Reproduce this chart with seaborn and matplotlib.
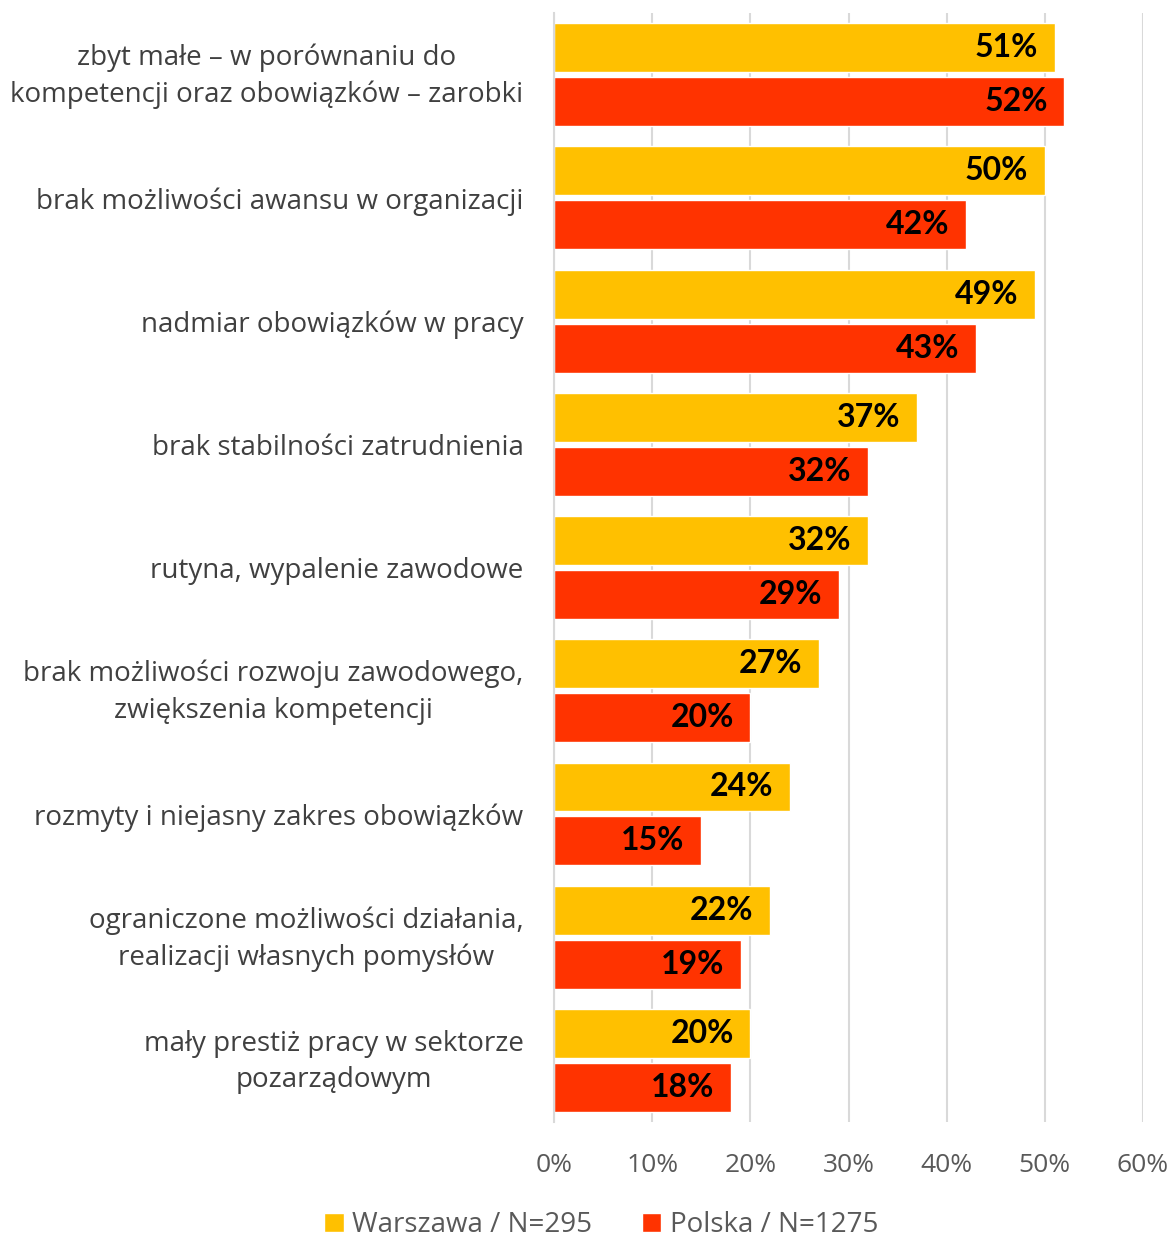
import matplotlib
matplotlib.use('Agg')
import matplotlib.pyplot as plt
import matplotlib.transforms as mtransforms
import seaborn as sns
import pandas as pd
from matplotlib.patches import Patch
from matplotlib.ticker import FuncFormatter

categories = [
    "zbyt małe – w porównaniu do\nkompetencji oraz obowiązków – zarobki",
    "brak możliwości awansu w organizacji",
    "nadmiar obowiązków w pracy",
    "brak stabilności zatrudnienia",
    "rutyna, wypalenie zawodowe",
    "brak możliwości rozwoju zawodowego,\nzwiększenia kompetencji",
    "rozmyty i niejasny zakres obowiązków",
    "ograniczone możliwości działania,\nrealizacji własnych pomysłów",
    "mały prestiż pracy w sektorze\npozarządowym",
]
warszawa = [51, 50, 49, 37, 32, 27, 24, 22, 20]
polska = [52, 42, 43, 32, 29, 20, 15, 19, 18]
series_names = ["Warszawa / N=295", "Polska / N=1275"]
colors = ["#FFC000", "#FF3300"]

df = pd.DataFrame({
    "kategoria": categories * 2,
    "wartosc": warszawa + polska,
    "seria": [series_names[0]] * len(categories) + [series_names[1]] * len(categories),
})

sns.set_style("white")
plt.rcParams['font.family'] = ['Open Sans', 'DejaVu Sans']

fig = plt.figure(figsize=(11.74, 12.39), dpi=100)
ax = fig.add_axes([0.472, 0.0944, 0.5015, 0.8951])

sns.barplot(data=df, x="wartosc", y="kategoria", hue="seria", orient="h",
            palette=colors, width=0.876, gap=0.0926, saturation=1,
            legend=False, ax=ax)

ax.set_xlim(0, 60)
ax.set_ylim(len(categories) - 0.5, -0.5)
ax.set_xticks(range(0, 61, 10))
ax.xaxis.set_major_formatter(FuncFormatter(lambda v, p: f"{int(v)}%"))
ax.grid(axis='x', color='#D9D9D9', linewidth=1.5)
ax.set_axisbelow(True)
for s in ["top", "right", "bottom"]:
    ax.spines[s].set_visible(False)
ax.spines["left"].set_color("#D9D9D9")
ax.spines["left"].set_linewidth(1.5)
ax.set_xlabel("")
ax.set_ylabel("")
ax.tick_params(axis='x', length=0, pad=22, labelsize=19, labelcolor="#595959")
ax.tick_params(axis='y', length=0, pad=22, labelsize=20, labelcolor="#404040")
# multi-line labels sit a little high in the original
shift_up = mtransforms.ScaledTranslation(0, 6 / 100, fig.dpi_scale_trans)
for lbl in ax.get_yticklabels():
    lbl.set_multialignment('center')
    lbl.set_linespacing(1.4)
    if "\n" in lbl.get_text():
        lbl.set_transform(lbl.get_transform() + shift_up)

for cont in ax.containers:
    for bar in cont:
        w = bar.get_width()
        ax.annotate(f"{int(round(w))}%", (w, bar.get_y() + bar.get_height() / 2),
                    xytext=(-12, 0), textcoords='offset points',
                    ha='right', va='center', fontsize=23, fontweight='bold',
                    color='black', family=['Lato', 'DejaVu Sans'])

handles = [Patch(facecolor=c, label=n) for c, n in zip(colors, series_names)]
fig.legend(handles=handles, loc='center', bbox_to_anchor=(0.512, 0.011), ncol=2,
           frameon=False, fontsize=20, handlelength=0.7, handleheight=0.7,
           handletextpad=0.3, columnspacing=1.8, labelcolor="#595959")

fig.savefig("out.png", dpi=100)
